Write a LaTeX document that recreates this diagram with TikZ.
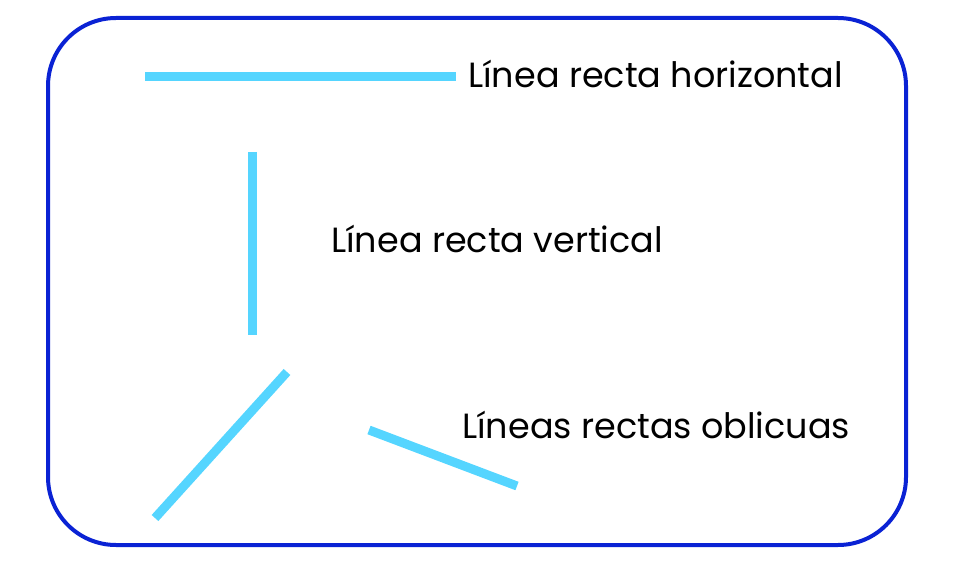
\documentclass[tikz,border=0pt]{standalone}
\usepackage{fontspec}
\setmainfont{Poppins}
\definecolor{frameStroke}{HTML}{0A22D4}
\definecolor{lineCyan}{HTML}{55D5FF}

\begin{document}
\begin{tikzpicture}[
  x=1pt,y=-1pt,
  frame/.style={draw=frameStroke,line width=4pt,rounded corners=68pt},
  seg/.style={draw=lineCyan,line width=9pt},
  label/.style={anchor=base west,inner sep=0pt,font=\fontsize{35}{42}\selectfont,text=black}
]
\useasboundingbox (0,0) rectangle (963,564);
% outer frame
\draw[frame] (48,18) rectangle (906,545);
% the straight lines
\coordinate (hA) at (145,77);
\coordinate (hB) at (456,77);
\coordinate (vA) at (252,152);
\coordinate (vB) at (252,335);
\coordinate (oA) at (287,372);
\coordinate (oB) at (155,518);
\coordinate (oC) at (369,430);
\coordinate (oD) at (517,486);
\draw[seg] (hA) -- (hB);
\draw[seg] (vA) -- (vB);
\draw[seg] (oA) -- (oB);
\draw[seg] (oC) -- (oD);
% labels
\node[label] (horiz) at (468,88) {Línea recta horizontal};
\node[label] (vert) at (331,252) {Línea recta vertical};
\node[label] (obliq) at (462,438) {Líneas rectas oblicuas};
\end{tikzpicture}
\end{document}
